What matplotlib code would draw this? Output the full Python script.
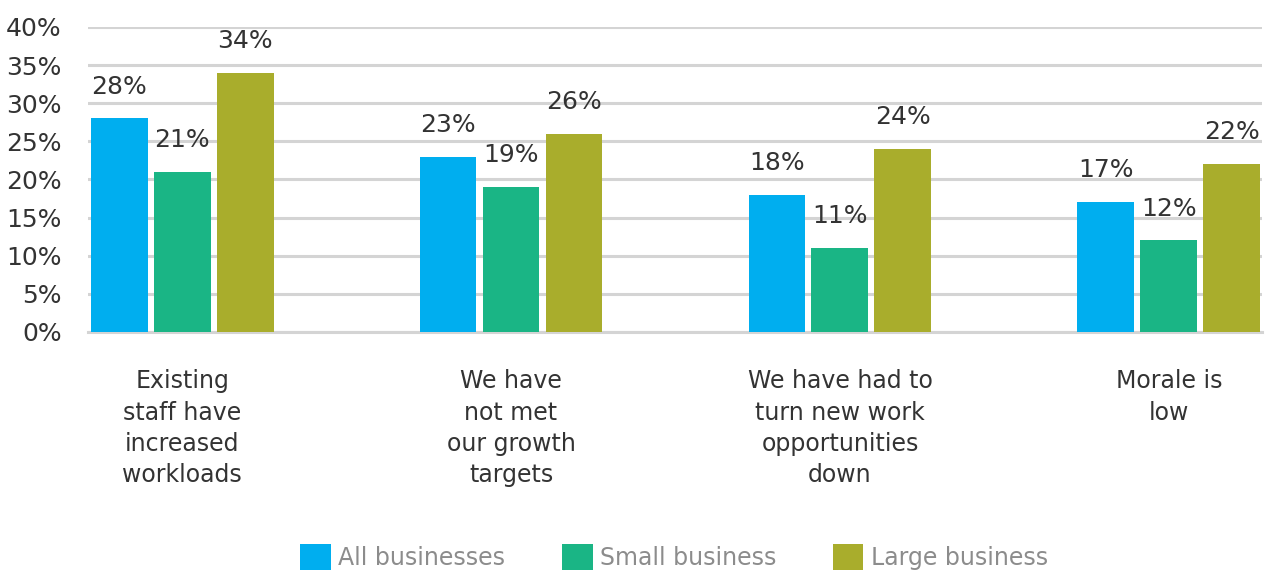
import matplotlib.pyplot as plt
import numpy as np
from matplotlib.patches import Patch

plt.rcParams['font.family'] = ['DejaVu Sans']

categories = [
    "Existing\nstaff have\nincreased\nworkloads",
    "We have\nnot met\nour growth\ntargets",
    "We have had to\nturn new work\nopportunities\ndown",
    "Morale is\nlow",
]
series_names = ["All businesses", "Small business", "Large business"]
all_businesses = [28, 23, 18, 17]
small_business = [21, 19, 11, 12]
large_business = [34, 26, 24, 22]
y_ticks = [0, 5, 10, 15, 20, 25, 30, 35, 40]

colors = ["#00AEEF", "#1AB585", "#A9AD2C"]
text_color = "#333333"
grid_color = "#D4D4D4"

fig = plt.figure(figsize=(12.67, 5.72), dpi=100)
ax = fig.add_axes([0.0695, 0.4196, 0.9265, 0.5332])

x = np.arange(len(categories))
width = 0.173
step = 0.1915

for i, (name, vals) in enumerate(zip(series_names,
                                     [all_businesses, small_business, large_business])):
    pos = x + (i - 1) * step
    ax.bar(pos, vals, width=width, color=colors[i], zorder=3, label=name)
    for px, v in zip(pos, vals):
        ax.annotate(f"{v}%", (px, v), xytext=(0, 23), textcoords="offset points",
                    ha="center", va="center", fontsize=18, color=text_color, zorder=4)

ax.set_xlim(-0.286, 3.283)
ax.set_ylim(0, 40)
ax.set_yticks(y_ticks)
ax.set_yticklabels([f"{t}%" for t in y_ticks])
ax.set_xticks(x)
ax.set_xticklabels(categories, fontsize=17, color=text_color, linespacing=1.37)

ax.grid(axis="y", color=grid_color, linewidth=2.2, zorder=0)
ax.tick_params(axis="y", length=0, pad=19, labelsize=18, labelcolor=text_color)
ax.tick_params(axis="x", length=0, pad=27)
for side in ["top", "right", "left"]:
    ax.spines[side].set_visible(False)
ax.spines["bottom"].set_color(grid_color)
ax.spines["bottom"].set_linewidth(2.2)

handles = [Patch(facecolor=c, edgecolor="none") for c in colors]
leg = fig.legend(handles, series_names, loc="center", bbox_to_anchor=(0.532, 0.026),
                 ncol=3, frameon=False, fontsize=17, handlelength=1.3,
                 handleheight=1.3, handletextpad=0.3, columnspacing=2.4,
                 borderpad=0)
for t in leg.get_texts():
    t.set_color("#8C8C8C")

fig.savefig("out.png", dpi=100)
